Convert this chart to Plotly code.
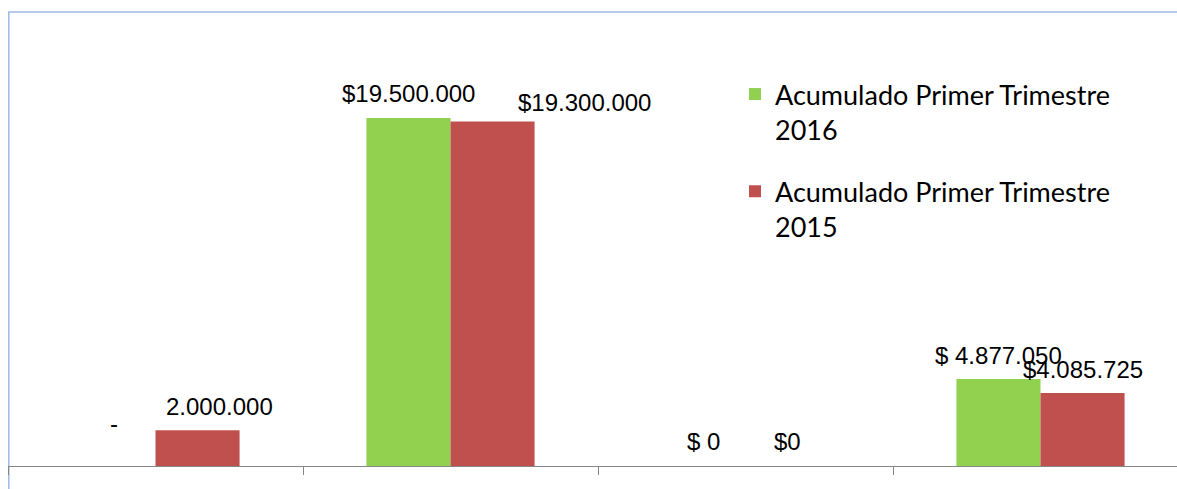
import plotly.graph_objects as go

# ---- data ----
categories = ["Concepto 1", "Concepto 2", "Concepto 3", "Concepto 4"]
series_names = ["Acumulado Primer Trimestre<br>2016", "Acumulado Primer Trimestre<br>2015"]
values_2016 = [0, 19500000, 0, 4877050]
values_2015 = [2000000, 19300000, 0, 4085725]
labels_2016 = ["-", "$19.500.000", "$ 0", "$ 4.877.050"]
labels_2015 = ["2.000.000", "$19.300.000", "$0", "$4.085.725"]

# ---- styles ----
GREEN = "#92D050"
RED = "#C0504D"
BORDER = "#9DB9E6"
AXIS = "#868686"

# label nudges in pixels (xshift, yshift) per point, relative to bar centre/top
nudge_2016 = [(0, 43), (0, 25), (0, 25), (0, 23)]
nudge_2015 = [(22, 24), (92, 19), (0, 25), (0, 24)]

fig = go.Figure()
fig.add_trace(go.Bar(name=series_names[0], x=categories, y=values_2016,
                     marker=dict(color=GREEN, line=dict(width=0)), legendgroup="a"))
fig.add_trace(go.Bar(name=series_names[1], x=categories, y=values_2015,
                     marker=dict(color=RED, line=dict(width=0)), legendgroup="b"))

BAR_HALF_PX = 42
annotations = []
for vals, labs, nud, side in ((values_2016, labels_2016, nudge_2016, -1),
                              (values_2015, labels_2015, nudge_2015, 1)):
    for cat, v, t, (dx, dy) in zip(categories, vals, labs, nud):
        annotations.append(dict(
            x=cat, y=v, text=t, showarrow=False, xref="x", yref="y",
            xanchor="center", yanchor="middle",
            xshift=side * BAR_HALF_PX + dx, yshift=dy,
            font=dict(family="Liberation Sans, Arial", size=24, color="#000000"),
        ))

W, H = 1177, 489
ML, MT, MB = 8, 12, 23
plot_w = W - ML
plot_h = H - MT - MB
cat_px = 295.0
xmax = -0.5 + plot_w / cat_px
px_per_unit = 348.0 / 19500000
ymax = plot_h / px_per_unit

fig.update_layout(
    width=W, height=H,
    margin=dict(l=ML, r=0, t=MT, b=MB, pad=0),
    paper_bgcolor="white", plot_bgcolor="white",
    barmode="group", bargap=0.43, bargroupgap=0,
    annotations=annotations,
    showlegend=True,
    legend=dict(
        x=(735 - ML) / plot_w, xanchor="left",
        y=1 - 58 / plot_h, yanchor="top",
        font=dict(family="Lato, Carlito, Calibri", size=27, color="#000000"),
        valign="top", tracegroupgap=24, bgcolor="rgba(0,0,0,0)",
    ),
    xaxis=dict(
        type="category", range=[-0.5, xmax], showticklabels=False,
        showline=True, linecolor=AXIS, linewidth=1,
        ticks="outside", tickson="boundaries", ticklen=8, tickcolor=AXIS, tickwidth=1,
        showgrid=False, zeroline=False, fixedrange=True,
    ),
    yaxis=dict(
        range=[0, ymax], visible=False, showgrid=False, zeroline=False, fixedrange=True,
    ),
    shapes=[dict(type="rect", xref="paper", yref="paper",
                 x0=0.0007, x1=1.05, y0=-0.2, y1=1,
                 line=dict(color=BORDER, width=1.5), fillcolor="rgba(0,0,0,0)",
                 layer="below")],
)

fig.write_html(
    "out.html",
    config={"displayModeBar": False},
    post_script="document.body.style.margin='0';document.body.style.overflow='hidden';",
)
